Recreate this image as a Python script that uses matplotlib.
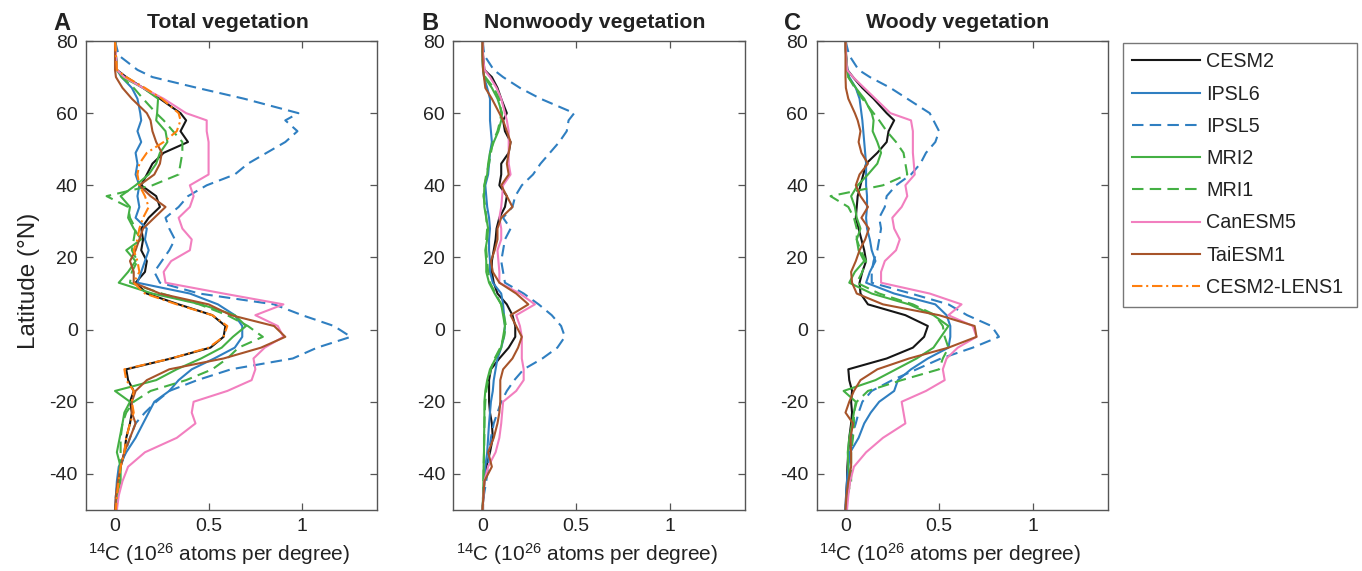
import matplotlib
matplotlib.use('Agg')
import matplotlib.pyplot as plt
from matplotlib.font_manager import fontManager

# Latitude grid (deg N), shared by every profile
LAT = [80, 76, 72, 70, 67, 64, 60, 58, 55, 52, 49, 46, 43, 40, 37, 34, 31, 28, 25, 22,
       19, 16, 13, 10, 7, 4, 1, -2, -5, -8, -11, -14, -17, -20, -23, -26, -30, -34, -38, -42,
       -46, -50]

MODELS = ['CESM2', 'IPSL6', 'IPSL5', 'MRI2', 'MRI1', 'CanESM5', 'TaiESM1', 'CESM2-LENS1']

# Panel A - total vegetation (1e26 atoms per degree)
total_cesm2 = [0, 0.005, 0.01, 0.06, 0.15, 0.24, 0.35, 0.38, 0.35, 0.39, 0.26, 0.2, 0.17, 0.14, 0.22, 0.24, 0.18, 0.14, 0.15, 0.14,
               0.17, 0.16, 0.11, 0.17, 0.34, 0.52, 0.59, 0.58, 0.51, 0.3, 0.06, 0.07, 0.1, 0.08, 0.09, 0.08, 0.06, 0.05, 0.03, 0.02,
               0.01, 0.005]
total_ipsl6 = [0, 0.005, 0.01, 0.035, 0.09, 0.12, 0.135, 0.14, 0.12, 0.14, 0.11, 0.12, 0.11, 0.13, 0.12, 0.13, 0.11, 0.17, 0.16, 0.18,
               0.16, 0.14, 0.12, 0.4, 0.55, 0.64, 0.68, 0.68, 0.64, 0.53, 0.41, 0.34, 0.29, 0.21, 0.18, 0.15, 0.11, 0.06, 0.02, 0.01,
               0.005, 0]
total_ipsl5 = [0, 0.02, 0.12, 0.2, 0.44, 0.69, 0.98, 0.91, 0.975, 0.91, 0.81, 0.71, 0.64, 0.49, 0.39, 0.34, 0.27, 0.29, 0.32, 0.29,
               0.25, 0.21, 0.24, 0.45, 0.85, 1.0, 1.17, 1.26, 1.08, 0.95, 0.62, 0.44, 0.29, 0.22, 0.16, 0.11, 0.08, 0.055, 0.03, 0.015,
               0.005, 0]
total_mri2 = [0, 0.005, 0.01, 0.04, 0.15, 0.23, 0.225, 0.22, 0.27, 0.28, 0.24, 0.22, 0.18, 0.11, 0.03, 0.08, 0.07, 0.1, 0.14, 0.06,
              0.11, 0.07, 0.02, 0.2, 0.46, 0.64, 0.7, 0.63, 0.57, 0.46, 0.33, 0.22, 0.0, 0.08, 0.05, 0.04, 0.025, 0.01, 0.03, 0.03,
              0.01, 0.005]
total_mri1 = [0, 0.005, 0.01, 0.035, 0.1, 0.15, 0.22, 0.26, 0.31, 0.36, 0.36, 0.35, 0.34, 0.2, -0.045, 0.07, 0.08, 0.11, 0.1, 0.09,
              0.12, 0.09, 0.08, 0.25, 0.45, 0.6, 0.71, 0.79, 0.66, 0.6, 0.52, 0.38, 0.19, 0.1, 0.06, 0.04, 0.03, 0.03, 0.025, 0.02,
              0.01, 0.005]
total_canesm5 = [0, 0.005, 0.01, 0.05, 0.15, 0.26, 0.38, 0.49, 0.49, 0.5, 0.5, 0.5, 0.5, 0.4, 0.42, 0.4, 0.34, 0.36, 0.41, 0.4,
                 0.3, 0.26, 0.27, 0.58, 0.9, 0.75, 0.87, 0.9, 0.8, 0.74, 0.75, 0.73, 0.6, 0.42, 0.41, 0.43, 0.33, 0.16, 0.07, 0.04,
                 0.02, 0.01]
total_taiesm1 = [0, 0, 0, 0.005, 0.04, 0.09, 0.17, 0.19, 0.2, 0.22, 0.25, 0.24, 0.21, 0.13, 0.19, 0.27, 0.21, 0.15, 0.13, 0.11,
                 0.08, 0.1, 0.1, 0.24, 0.5, 0.62, 0.85, 0.91, 0.78, 0.58, 0.29, 0.17, 0.11, 0.09, 0.09, 0.11, 0.08, 0.05, 0.03, 0.015,
                 0.005, 0]
total_lens1 = [0, 0.005, 0.01, 0.06, 0.16, 0.25, 0.34, 0.35, 0.33, 0.26, 0.17, 0.13, 0.12, 0.13, 0.16, 0.18, 0.15, 0.13, 0.12, 0.1,
               0.12, 0.13, 0.1, 0.16, 0.33, 0.52, 0.6, 0.58, 0.5, 0.3, 0.05, 0.06, 0.1, 0.09, 0.1, 0.08, 0.06, 0.05, 0.03, 0.02,
               0.01, 0.005]

# Panel B - nonwoody vegetation
nonwoody_cesm2 = [0, 0.003, 0.01, 0.05, 0.08, 0.1, 0.13, 0.11, 0.12, 0.15, 0.14, 0.1, 0.1, 0.09, 0.13, 0.12, 0.09, 0.075, 0.07, 0.06,
                  0.05, 0.05, 0.06, 0.08, 0.13, 0.16, 0.175, 0.175, 0.14, 0.09, 0.045, 0.035, 0.035, 0.035, 0.04, 0.05, 0.055, 0.04, 0.02, 0.01,
                  0.005, 0]
nonwoody_ipsl6 = [0, 0, 0.003, 0.008, 0.025, 0.04, 0.04, 0.04, 0.045, 0.05, 0.04, 0.035, 0.03, 0.015, 0.02, 0.025, 0.035, 0.04, 0.035, 0.035,
                  0.04, 0.04, 0.055, 0.1, 0.11, 0.115, 0.12, 0.115, 0.1, 0.08, 0.07, 0.06, 0.055, 0.045, 0.04, 0.035, 0.03, 0.025, 0.015, 0.01,
                  0.005, 0]
nonwoody_ipsl5 = [0, 0.01, 0.06, 0.11, 0.2, 0.31, 0.49, 0.46, 0.45, 0.41, 0.36, 0.31, 0.27, 0.21, 0.175, 0.16, 0.11, 0.15, 0.12, 0.11,
                  0.1, 0.11, 0.12, 0.22, 0.3, 0.37, 0.42, 0.44, 0.4, 0.32, 0.22, 0.17, 0.13, 0.1, 0.08, 0.06, 0.045, 0.035, 0.03, 0.02,
                  0.007, 0]
nonwoody_mri2 = [0, 0, 0.003, 0.01, 0.05, 0.08, 0.105, 0.1, 0.085, 0.06, 0.04, 0.03, 0.025, 0.01, 0.008, 0.01, 0.02, 0.03, 0.025, 0.015,
                 0.02, 0.02, 0.035, 0.065, 0.1, 0.11, 0.12, 0.11, 0.1, 0.07, 0.04, 0.025, 0.015, 0.01, 0.01, 0.01, 0.008, 0.008, 0.006, 0.005,
                 0.003, 0]
nonwoody_mri1 = [0, 0, 0.003, 0.015, 0.06, 0.09, 0.1, 0.095, 0.08, 0.055, 0.045, 0.035, 0.02, 0.01, 0.005, 0.015, 0.02, 0.025, 0.02, 0.02,
                 0.025, 0.03, 0.04, 0.07, 0.1, 0.115, 0.125, 0.115, 0.095, 0.065, 0.045, 0.03, 0.02, 0.015, 0.012, 0.01, 0.01, 0.008, 0.006, 0.005,
                 0.003, 0]
nonwoody_canesm5 = [0, 0.003, 0.01, 0.04, 0.075, 0.1, 0.12, 0.13, 0.14, 0.14, 0.14, 0.14, 0.15, 0.11, 0.105, 0.1, 0.09, 0.1, 0.1, 0.08,
                    0.085, 0.09, 0.09, 0.2, 0.28, 0.18, 0.2, 0.21, 0.21, 0.21, 0.22, 0.22, 0.18, 0.11, 0.105, 0.1, 0.09, 0.07, 0.03, 0.01,
                    0.005, 0]
nonwoody_taiesm1 = [0, 0, 0.003, 0.008, 0.015, 0.05, 0.09, 0.11, 0.13, 0.15, 0.14, 0.13, 0.14, 0.1, 0.13, 0.16, 0.1, 0.08, 0.08, 0.065,
                    0.045, 0.055, 0.09, 0.18, 0.245, 0.15, 0.18, 0.21, 0.19, 0.16, 0.11, 0.095, 0.095, 0.095, 0.09, 0.08, 0.06, 0.03, 0.05, 0.01,
                    0.005, 0]

# Panel C - woody vegetation
woody_cesm2 = [0, 0.003, 0.01, 0.04, 0.09, 0.15, 0.22, 0.26, 0.23, 0.22, 0.17, 0.11, 0.095, 0.08, 0.065, 0.06, 0.055, 0.07, 0.085, 0.1,
               0.11, 0.09, 0.075, 0.08, 0.12, 0.32, 0.44, 0.42, 0.36, 0.22, 0.015, 0.02, 0.035, 0.03, 0.035, 0.03, 0.02, 0.015, 0.01, 0.008,
               0.003, 0]
woody_ipsl6 = [0, 0.003, 0.01, 0.02, 0.055, 0.075, 0.085, 0.09, 0.095, 0.1, 0.105, 0.11, 0.11, 0.11, 0.115, 0.115, 0.11, 0.115, 0.13, 0.14,
               0.16, 0.13, 0.11, 0.26, 0.48, 0.54, 0.56, 0.56, 0.55, 0.44, 0.35, 0.28, 0.26, 0.18, 0.135, 0.1, 0.07, 0.025, 0.015, 0.008,
               0.003, 0]
woody_ipsl5 = [0, 0.02, 0.07, 0.13, 0.24, 0.33, 0.45, 0.47, 0.5, 0.48, 0.43, 0.4, 0.35, 0.27, 0.22, 0.21, 0.18, 0.19, 0.18, 0.17,
               0.15, 0.14, 0.14, 0.35, 0.55, 0.65, 0.78, 0.82, 0.68, 0.51, 0.38, 0.25, 0.14, 0.09, 0.07, 0.055, 0.03, 0.02, 0.015, 0.01,
               0.005, 0]
woody_mri2 = [0, 0.003, 0.008, 0.015, 0.055, 0.1, 0.14, 0.15, 0.145, 0.17, 0.19, 0.17, 0.12, 0.065, 0.03, 0.05, 0.06, 0.08, 0.06, 0.07,
              0.1, 0.05, 0.02, 0.14, 0.34, 0.47, 0.55, 0.51, 0.47, 0.38, 0.27, 0.16, -0.01, 0.055, 0.045, 0.035, 0.02, 0.012, 0.015, 0.025,
              0.01, 0.005]
woody_mri1 = [0, 0.003, 0.008, 0.015, 0.05, 0.09, 0.15, 0.18, 0.22, 0.27, 0.31, 0.32, 0.33, 0.2, -0.08, 0.015, 0.045, 0.06, 0.06, 0.08,
              0.11, 0.09, 0.06, 0.18, 0.36, 0.48, 0.52, 0.53, 0.55, 0.52, 0.5, 0.3, 0.12, 0.06, 0.045, 0.045, 0.04, 0.03, 0.03, 0.03,
              0.01, 0.005]
woody_canesm5 = [0, 0.003, 0.008, 0.04, 0.1, 0.16, 0.24, 0.35, 0.36, 0.36, 0.36, 0.365, 0.37, 0.32, 0.33, 0.3, 0.25, 0.26, 0.29, 0.27,
                 0.21, 0.19, 0.19, 0.45, 0.62, 0.55, 0.68, 0.7, 0.6, 0.54, 0.52, 0.53, 0.43, 0.3, 0.31, 0.32, 0.2, 0.11, 0.045, 0.025,
                 0.015, 0.008]
woody_taiesm1 = [0, 0, 0, 0, 0.002, 0.015, 0.05, 0.065, 0.08, 0.07, 0.085, 0.12, 0.075, 0.055, 0.08, 0.12, 0.085, 0.125, 0.105, 0.075,
                 0.055, 0.03, 0.035, 0.06, 0.2, 0.5, 0.69, 0.7, 0.55, 0.34, 0.17, 0.08, 0.045, 0.02, 0.0, 0.04, 0.027, 0.03, 0.03, 0.015,
                 0.005, 0]

TITLES = ['Total vegetation', 'Nonwoody vegetation', 'Woody vegetation']
LETTERS = ['A', 'B', 'C']
XTICKS = [0, 0.5, 1]
YTICKS = [-40, -20, 0, 20, 40, 60, 80]

panels = [
    {'CESM2': total_cesm2, 'IPSL6': total_ipsl6, 'IPSL5': total_ipsl5, 'MRI2': total_mri2,
     'MRI1': total_mri1, 'CanESM5': total_canesm5, 'TaiESM1': total_taiesm1, 'CESM2-LENS1': total_lens1},
    {'CESM2': nonwoody_cesm2, 'IPSL6': nonwoody_ipsl6, 'IPSL5': nonwoody_ipsl5, 'MRI2': nonwoody_mri2,
     'MRI1': nonwoody_mri1, 'CanESM5': nonwoody_canesm5, 'TaiESM1': nonwoody_taiesm1},
    {'CESM2': woody_cesm2, 'IPSL6': woody_ipsl6, 'IPSL5': woody_ipsl5, 'MRI2': woody_mri2,
     'MRI1': woody_mri1, 'CanESM5': woody_canesm5, 'TaiESM1': woody_taiesm1},
]

BLUE = '#2f7fc1'
GREEN = '#44b044'
styles = {
    'CESM2': dict(color='#161616', ls='-'),
    'IPSL6': dict(color=BLUE, ls='-'),
    'IPSL5': dict(color=BLUE, ls=(0, (5.5, 3))),
    'MRI2': dict(color=GREEN, ls='-'),
    'MRI1': dict(color=GREEN, ls=(0, (5.5, 3))),
    'CanESM5': dict(color='#f27fbf', ls='-'),
    'TaiESM1': dict(color='#a7542a', ls='-'),
    'CESM2-LENS1': dict(color='#ff7f0e', ls=(0, (5, 1.8, 1, 1.8))),
}

names = [f.name for f in fontManager.ttflist]
family = [f for f in ['Liberation Sans', 'Arial', 'DejaVu Sans'] if f in names]
plt.rcParams['font.family'] = family
plt.rcParams['mathtext.fontset'] = 'custom'
plt.rcParams['mathtext.rm'] = family[0]
plt.rcParams['mathtext.default'] = 'regular'
plt.rcParams['axes.unicode_minus'] = False
plt.rcParams['text.color'] = '#222222'

W, H = 1362, 571
fig = plt.figure(figsize=(W / 100, H / 100), dpi=100)

lefts = [86, 453.5, 816.5]
ax_w = 291
top_px, bot_px = 41, 510
xlabel_dx = -12
edge = '#555555'

axes = []
for i, data in enumerate(panels):
    ax = fig.add_axes([lefts[i] / W, 1 - bot_px / H, ax_w / W, (bot_px - top_px) / H])
    for name in MODELS:
        if name in data:
            ax.plot(data[name], LAT, lw=1.5, label=name, **styles[name])
    ax.set_xlim(-0.155, 1.4)
    ax.set_ylim(-50, 80)
    ax.set_xticks(XTICKS)
    ax.set_xticklabels(['0', '0.5', '1'])
    ax.set_yticks(YTICKS)
    ax.tick_params(direction='in', length=5, width=0.9, color=edge, labelsize=14,
                   labelcolor='#222222', top=True, right=True, pad=6)
    for s in ax.spines.values():
        s.set_color(edge)
        s.set_linewidth(1.0)
    cx = lefts[i] + ax_w / 2
    fig.text((lefts[i] - 24) / W, 1 - 23 / H, LETTERS[i], ha='center', va='center',
             fontsize=17, fontweight='bold')
    fig.text((cx - 4) / W, 1 - 23 / H, TITLES[i], ha='center', va='center',
             fontsize=15.3, fontweight='bold')
    fig.text((cx + xlabel_dx) / W, 1 - 554 / H, r'$^{14}$C (10$^{26}$ atoms per degree)',
             ha='center', va='center', fontsize=15)
    axes.append(ax)

fig.text(29 / W, 1 - 281 / H, 'Latitude (°N)', rotation=90, ha='center', va='center',
         fontsize=17.5)

handles, labels = axes[0].get_legend_handles_labels()
leg = fig.legend(handles, labels, loc='upper left',
                 bbox_to_anchor=(1122.5 / W, 1 - 42.5 / H, 234 / W, 0.0),
                 mode='expand', fontsize=14.2, frameon=True, fancybox=False,
                 edgecolor=edge, borderpad=0.5, labelspacing=0.67,
                 handlelength=3.45, handletextpad=0.3, borderaxespad=0)
leg.get_frame().set_linewidth(1.0)

fig.savefig('out.png', dpi=100)
